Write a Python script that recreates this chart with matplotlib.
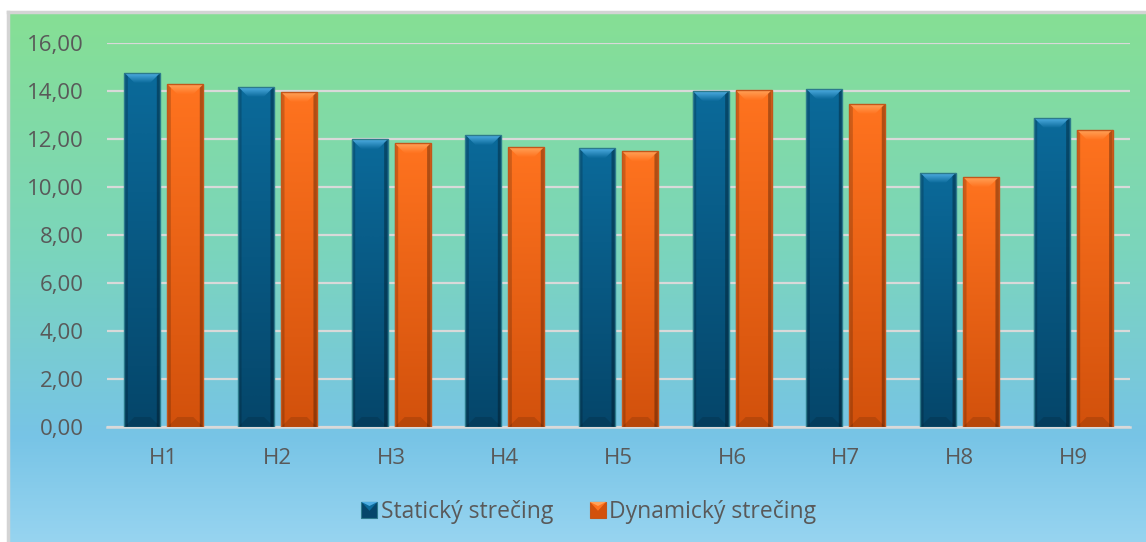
import numpy as np
import matplotlib.pyplot as plt
from matplotlib.colors import LinearSegmentedColormap
from matplotlib.patches import Polygon, Rectangle
from matplotlib.legend_handler import HandlerBase
from matplotlib.lines import Line2D

categories = ["H1", "H2", "H3", "H4", "H5", "H6", "H7", "H8", "H9"]
staticky = [14.76, 14.18, 11.98, 12.17, 11.61, 14.00, 14.08, 10.60, 12.89]
dynamicky = [14.28, 13.96, 11.82, 11.67, 11.49, 14.03, 13.47, 10.42, 12.39]
series_names = ["Statický strečing", "Dynamický strečing"]
yticks = [0, 2, 4, 6, 8, 10, 12, 14, 16]

# colours per series: top, bottom, bevel light, edge
blue = dict(top="#0B6A9A", bot="#05466A", light="#4FAEE3", edge="#2C7A8C")
orange = dict(top="#FF731F", bot="#D2510C", light="#FFA35A", edge="#C4561A")

text_col = "#595959"
plt.rcParams['font.family'] = ['Open Sans', 'DejaVu Sans']

W, H = 1146, 542
fig = plt.figure(figsize=(W / 100, H / 100), dpi=100)
fig.patch.set_facecolor("white")

# chart area background gradient (green -> blue)
bg = fig.add_axes([8 / W, 0, 1 - 8 / W, 1 - 12 / H], zorder=0)
bg_cmap = LinearSegmentedColormap.from_list(
    "bg", [(0.0, "#97D4F0"), (0.2, "#77C4E6"), (0.55, "#7BD5BC"), (1.0, "#86DF94")])
bg.imshow(np.linspace(0, 1, 256).reshape(-1, 1), cmap=bg_cmap, aspect="auto",
          origin="lower", extent=[0, 1, 0, 1], interpolation="bicubic")
bg.set_axis_off()
fig.add_artist(Line2D([8 / W, 1], [1 - 12 / H, 1 - 12 / H], color="#D4D4D4", lw=2.5,
                      transform=fig.transFigure))
fig.add_artist(Line2D([8 / W, 8 / W], [0, 1 - 12 / H], color="#D4D4D4", lw=2.5,
                      transform=fig.transFigure))

ax = fig.add_axes([107 / W, 1 - 427 / H, (1130 - 107) / W, (427 - 43) / H], zorder=1)
ax.patch.set_alpha(0)

x = np.arange(len(categories))
bw = 0.316
off = 0.189

px_x = (1130 - 107) / 9.0   # pixels per x unit
px_y = (427 - 43) / 16.0    # pixels per y unit


def vgrad(patch, c_top, c_bot, extent, z):
    cmap = LinearSegmentedColormap.from_list("g", [c_bot, c_top])
    im = ax.imshow(np.linspace(0, 1, 64).reshape(-1, 1), cmap=cmap, extent=extent,
                   origin="lower", aspect="auto", interpolation="bicubic", zorder=z)
    im.set_clip_path(patch)


def bevel_bar(rect, c):
    x0, y0 = rect.get_x(), rect.get_y()
    x1, y1 = x0 + rect.get_width(), y0 + rect.get_height()
    vgrad(rect, c["top"], c["bot"], [x0, x1, y0, y1], 3)
    dx, dy = 10 / px_x, 10 / px_y
    sx = 3.5 / px_x
    # top bevel
    top = Polygon([(x0, y1), (x1, y1), (x1 - dx, y1 - dy), (x0 + dx, y1 - dy)],
                  closed=True, facecolor="none", edgecolor="none", zorder=4)
    ax.add_patch(top)
    vgrad(top, c["light"], c["top"], [x0, x1, y1 - dy, y1], 4)
    # side shading
    ax.add_patch(Polygon([(x0, y1), (x0 + sx, y1 - sx * px_x / px_y), (x0 + sx, y0), (x0, y0)],
                         closed=True, facecolor="black", alpha=0.18, lw=0, zorder=5))
    ax.add_patch(Polygon([(x1, y1), (x1 - sx, y1 - sx * px_x / px_y), (x1 - sx, y0), (x1, y0)],
                         closed=True, facecolor="black", alpha=0.3, lw=0, zorder=5))
    # bottom bevel
    ax.add_patch(Polygon([(x0, y0), (x1, y0), (x1 - dx, y0 + dy), (x0 + dx, y0 + dy)],
                         closed=True, facecolor="black", alpha=0.12, lw=0, zorder=5))
    ax.add_patch(Rectangle((x0, y0), x1 - x0, y1 - y0, facecolor="none",
                           edgecolor=c["edge"], lw=1.0, zorder=6))


b1 = ax.bar(x - off, staticky, bw, color=blue["top"], lw=0, zorder=2)
b2 = ax.bar(x + off, dynamicky, bw, color=orange["top"], lw=0, zorder=2)
for r in b1:
    bevel_bar(r, blue)
for r in b2:
    bevel_bar(r, orange)

ax.set_xlim(-0.5, len(categories) - 0.5)
ax.set_ylim(0, 16)
ax.set_yticks(yticks)
ax.set_yticklabels([f"{v:.2f}".replace(".", ",") for v in yticks])
ax.set_xticks(x)
ax.set_xticklabels(categories)
ax.tick_params(axis="both", length=0, labelsize=16, labelcolor=text_col)
ax.tick_params(axis="y", pad=17)
ax.tick_params(axis="x", pad=15)
ax.grid(axis="y", color="#D9D9D9", lw=1.6, zorder=1)
ax.set_axisbelow(True)
for s in ["left", "right", "top"]:
    ax.spines[s].set_visible(False)
ax.spines["bottom"].set_color("#D9D9D9")
ax.spines["bottom"].set_linewidth(1.8)
ax.spines["bottom"].set_zorder(1.5)


class BevelHandler(HandlerBase):
    def __init__(self, c):
        super().__init__()
        self.c = c

    def create_artists(self, legend, orig_handle, xdescent, ydescent, width, height, fontsize, trans):
        s = min(width, height)
        xa, ya = -xdescent + (width - s) / 2, -ydescent + (height - s) / 2
        sq = Rectangle((xa, ya), s, s, facecolor=self.c["bot"], edgecolor=self.c["edge"],
                       lw=0.8, transform=trans)
        tri = Polygon([(xa, ya + s), (xa + s, ya + s), (xa + s / 2, ya + s * 0.45)],
                      closed=True, facecolor=self.c["top"], lw=0, transform=trans)
        tri2 = Polygon([(xa, ya + s), (xa + s, ya + s), (xa + s / 2, ya + s * 0.75)],
                       closed=True, facecolor=self.c["light"], lw=0, transform=trans)
        return [sq, tri, tri2]


h1 = Rectangle((0, 0), 1, 1)
h2 = Rectangle((0, 0), 1, 1)
leg = fig.legend([h1, h2], series_names, loc="center", ncol=2,
                 bbox_to_anchor=(589 / W, 1 - 512 / H), frameon=False,
                 fontsize=16.5, labelcolor=text_col, handlelength=0.7, handleheight=0.7,
                 handletextpad=0.15, columnspacing=1.6,
                 handler_map={h1: BevelHandler(blue), h2: BevelHandler(orange)})

fig.savefig("out.png", dpi=100)
